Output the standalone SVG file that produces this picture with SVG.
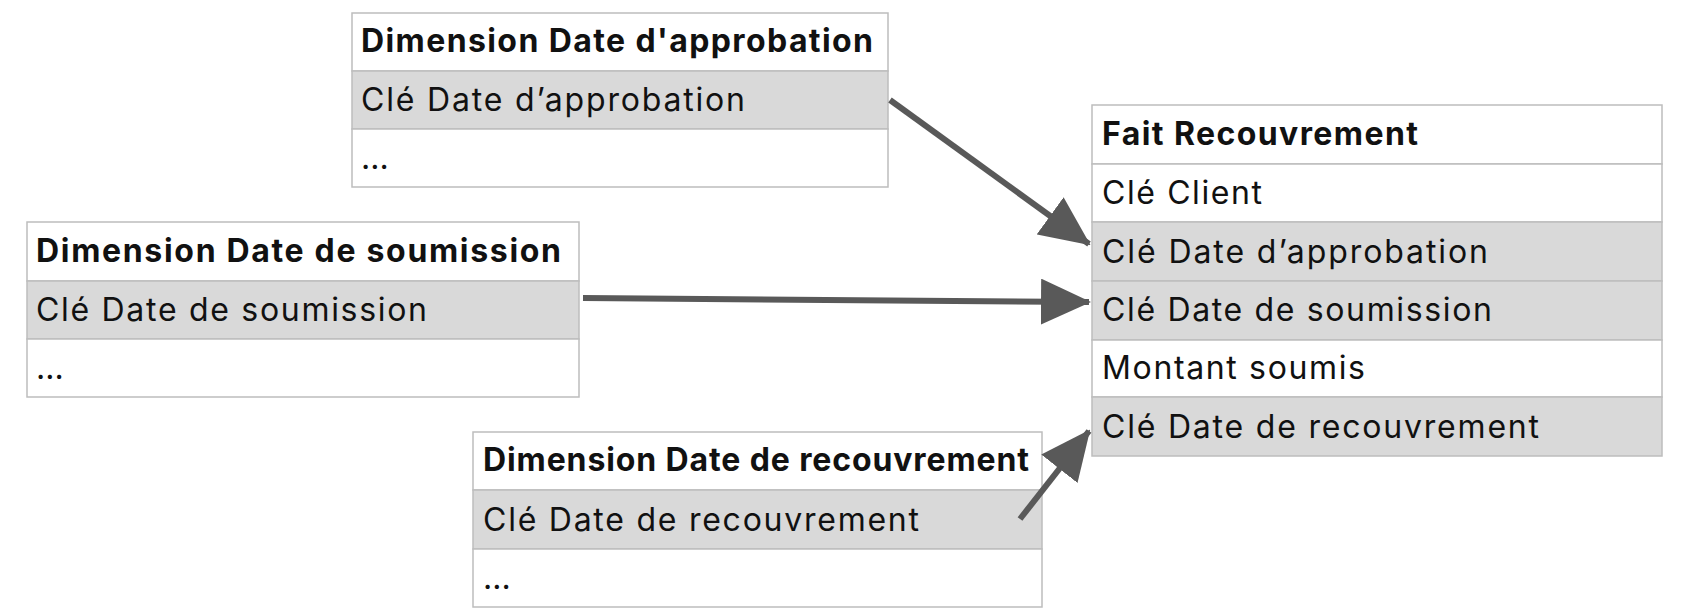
<svg xmlns="http://www.w3.org/2000/svg" width="1702" height="608" viewBox="0 0 1702 608">
<style>
.b{fill:#fff;stroke:#bdbdbd;stroke-width:1.5}
.g{fill:#d9d9d9;stroke:#bdbdbd;stroke-width:1.5}
text{font-family:Inter,"Noto Sans",sans-serif;font-size:32px;fill:#111}
.h{font-weight:bold}
.c{stroke:#595959;stroke-width:6;fill:none;marker-end:url(#a)}
</style>
<defs><marker id="a" markerUnits="userSpaceOnUse" markerWidth="50" markerHeight="46" refX="48" refY="23" orient="auto"><path d="M0,0 L50,23 L0,46 Z" fill="#595959"/></marker></defs>
<rect width="1702" height="608" fill="#fff"/>
<g id="dim-approbation">
<rect class="b" x="352" y="13" width="536" height="58"/><rect class="g" x="352" y="71" width="536" height="58"/><rect class="b" x="352" y="129" width="536" height="58"/>
<text class="h" x="361" y="52" textLength="512">Dimension Date d'approbation</text>
<text x="361" y="111" textLength="384">Clé Date d’approbation</text>
<text x="361" y="169">...</text>
</g>
<g id="dim-soumission">
<rect class="b" x="27" y="222" width="552" height="59"/><rect class="g" x="27" y="281" width="552" height="58"/><rect class="b" x="27" y="339" width="552" height="58"/>
<text class="h" x="36" y="262" textLength="525">Dimension Date de soumission</text>
<text x="36" y="321" textLength="391">Clé Date de soumission</text>
<text x="36" y="379">...</text>
</g>
<g id="dim-recouvrement">
<rect class="b" x="473" y="432" width="569" height="58"/><rect class="g" x="473" y="490" width="569" height="59"/><rect class="b" x="473" y="549" width="569" height="58"/>
<text class="h" x="483" y="471" textLength="546">Dimension Date de recouvrement</text>
<text x="483" y="531" textLength="436">Clé Date de recouvrement</text>
<text x="483" y="589">...</text>
</g>
<g id="fait-recouvrement">
<rect class="b" x="1092" y="105" width="570" height="59"/><rect class="b" x="1092" y="164" width="570" height="58"/><rect class="g" x="1092" y="222" width="570" height="59"/><rect class="g" x="1092" y="281" width="570" height="59"/><rect class="b" x="1092" y="340" width="570" height="57"/><rect class="g" x="1092" y="397" width="570" height="59"/>
<text class="h" x="1102" y="145" textLength="316">Fait Recouvrement</text>
<text x="1102" y="204" textLength="160">Clé Client</text>
<text x="1102" y="263" textLength="386">Clé Date d’approbation</text>
<text x="1102" y="321" textLength="390">Clé Date de soumission</text>
<text x="1102" y="379" textLength="263">Montant soumis</text>
<text x="1102" y="438" textLength="437">Clé Date de recouvrement</text>
</g>
<g id="connectors">
<line class="c" x1="890" y1="100" x2="1089" y2="244"/>
<line class="c" x1="583" y1="298" x2="1089" y2="302"/>
<line class="c" x1="1020" y1="519" x2="1089" y2="431"/>
</g>
</svg>
